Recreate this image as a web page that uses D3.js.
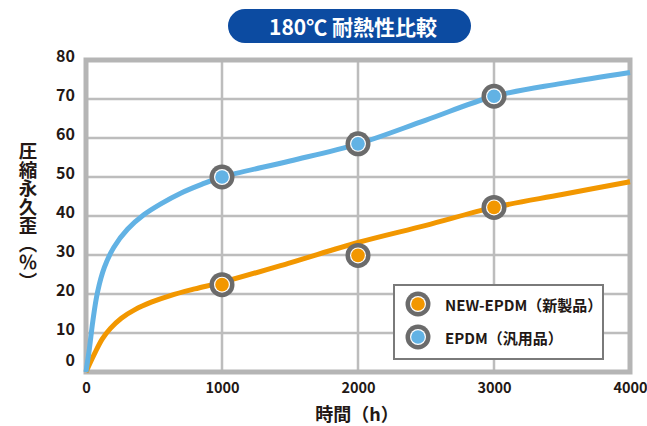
<!DOCTYPE html>
<html>
<head>
<meta charset="utf-8">
<script src="https://cdn.jsdelivr.net/npm/d3@7"></script>
<style>
    body { margin: 0; background: #fff; }
    text { font-family: "Noto Sans CJK JP", "Noto Sans", sans-serif; font-weight: 700; fill: #231815; }
</style>
</head>
<body>
<svg id="chart"></svg>
<script>
// Fitted curves (hours, %)
const epdmHours = [0, 25, 50, 85, 135, 205, 305, 425, 550, 700, 850, 1000, 1500, 2000, 2500, 3000, 3500, 4000];
const epdmCurve = [0, 6, 13, 20.5, 26.8, 32, 36.6, 40.3, 43.1, 45.9, 48.1, 50, 54.1, 58.5, 64.6, 70.7, 74, 76.8];
const newEpdmHours = [0, 60, 120, 180, 260, 360, 480, 620, 800, 1000, 1500, 2000, 2500, 3000, 3500, 4000];
const newEpdmCurve = [0, 4.5, 8.5, 11.2, 13.8, 16, 17.9, 19.6, 21.3, 23, 28, 33.2, 37.6, 42.2, 45.5, 48.8];

// Measured points
const pointHours = [1000, 2000, 3000];
const epdmPoints = [50, 58.5, 70.7];
const newEpdmPoints = [22.4, 29.9, 42.2];

const xTicks = [0, 1000, 2000, 3000, 4000];
const yTicks = [0, 10, 20, 30, 40, 50, 60, 70, 80];
const legendLabels = ["NEW-EPDM（新製品）", "EPDM（汎用品）"];

const blue = "#62b2e4";
const orange = "#f29700";

drawChart();

function drawChart() {
    const width = 647, height = 426;
    const svg = d3.select("#chart").attr("width", width).attr("height", height);

    const x = d3.scaleLinear().domain([0, 4000]).range([86, 630]);
    const y = d3.scaleLinear().domain([0, 80]).range([372, 60]);

    // Title pill
    svg.append("rect")
        .attr("x", 228).attr("y", 9).attr("width", 243).attr("height", 34).attr("rx", 17)
        .attr("fill", "#0c4ba1");
    svg.append("text")
        .attr("x", 353).attr("y", 26)
        .attr("dominant-baseline", "central").attr("text-anchor", "middle")
        .style("fill", "#fff").style("font-size", "21px")
        .text("180℃ 耐熱性比較");

    // Grid
    svg.append("g").selectAll("line").data(yTicks.slice(1, -1)).join("line")
        .attr("x1", x(0)).attr("x2", x(4000))
        .attr("y1", d => y(d)).attr("y2", d => y(d))
        .attr("stroke", "#bdbdbd").attr("stroke-width", 2.5);
    svg.append("g").selectAll("line").data(xTicks.slice(1, -1)).join("line")
        .attr("x1", d => x(d)).attr("x2", d => x(d))
        .attr("y1", y(0)).attr("y2", y(80))
        .attr("stroke", "#bdbdbd").attr("stroke-width", 2.5);

    // Frame
    svg.append("rect")
        .attr("x", x(0)).attr("y", y(80))
        .attr("width", x(4000) - x(0)).attr("height", y(0) - y(80))
        .attr("fill", "none").attr("stroke", "#b5b5b5").attr("stroke-width", 5);

    // Axes
    const yAxis = svg.append("g")
        .attr("transform", "translate(75,0)")
        .call(d3.axisLeft(y).tickValues(yTicks).tickSize(0).tickPadding(0));
    yAxis.select(".domain").remove();
    yAxis.selectAll("text")
        .attr("font-family", null).attr("fill", null)
        .style("font-size", "16px")
        .attr("dy", "0.35em")
        .attr("y", d => d === 0 ? -12 : -4);

    const xAxis = svg.append("g")
        .attr("transform", `translate(0,${y(0)})`)
        .call(d3.axisBottom(x).tickValues(xTicks).tickSize(0).tickFormat(d3.format("d")));
    xAxis.select(".domain").remove();
    xAxis.selectAll("text")
        .attr("font-family", null).attr("fill", null)
        .style("font-size", "14.5px")
        .attr("y", 16).attr("dy", "0.35em");

    // Axis titles
    svg.append("text")
        .attr("x", 357).attr("y", 413)
        .attr("dominant-baseline", "central").attr("text-anchor", "middle")
        .style("font-size", "18px")
        .text("時間（h）");
    svg.append("text")
        .attr("x", 28).attr("y", 216)
        .attr("text-anchor", "middle")
        .style("writing-mode", "vertical-rl")
        .style("font-size", "18.5px")
        .text("圧縮永久歪（％）");

    // Curves
    const line = d3.line()
        .x(d => x(d[0]))
        .y(d => y(d[1]))
        .curve(d3.curveCatmullRom.alpha(0.5));

    svg.append("path")
        .datum(d3.zip(newEpdmHours, newEpdmCurve))
        .attr("fill", "none").attr("stroke", orange).attr("stroke-width", 5)
        .attr("d", line);
    svg.append("path")
        .datum(d3.zip(epdmHours, epdmCurve))
        .attr("fill", "none").attr("stroke", blue).attr("stroke-width", 5)
        .attr("d", line);

    // Markers
    pointHours.forEach((h, i) => {
        marker(svg, x(h), y(newEpdmPoints[i]), orange);
        marker(svg, x(h), y(epdmPoints[i]), blue);
    });

    // Legend
    svg.append("rect")
        .attr("x", 394).attr("y", 285).attr("width", 209).attr("height", 74)
        .attr("fill", "#fff").attr("stroke", "#7a7a7a").attr("stroke-width", 2);
    [orange, blue].forEach((c, i) => {
        const ly = 304 + i * 33;
        marker(svg, 418, ly, c);
        svg.append("text")
            .attr("x", 445).attr("y", ly)
            .attr("dominant-baseline", "central")
            .style("font-size", "15px")
            .text(legendLabels[i]);
    });
}

function marker(svg, cx, cy, color) {
    const g = svg.append("g").attr("transform", `translate(${cx},${cy})`);
    g.append("circle").attr("r", 12.5).attr("fill", "#6b6b6b");
    g.append("circle").attr("r", 8).attr("fill", "#fff");
    g.append("circle").attr("r", 6.8).attr("fill", color);
}
</script>
</body>
</html>
